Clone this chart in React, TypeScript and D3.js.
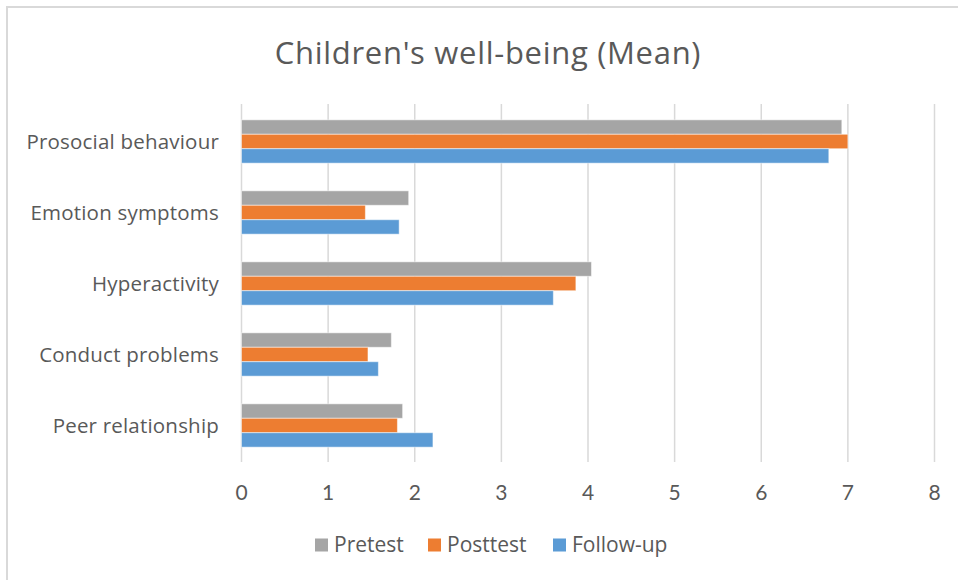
import * as React from "react";
import * as d3 from "d3";

const categories = [
    "Prosocial behaviour",
    "Emotion symptoms",
    "Hyperactivity",
    "Conduct problems",
    "Peer relationship",
];
const seriesNames = ["Pretest", "Posttest", "Follow-up"];
const pretest = [6.93, 1.93, 4.04, 1.73, 1.86];
const posttest = [7.0, 1.43, 3.86, 1.46, 1.8];
const followUp = [6.78, 1.82, 3.6, 1.58, 2.21];
const xTicks = [0, 1, 2, 3, 4, 5, 6, 7, 8];

const colors = ["#A5A5A5", "#ED7D31", "#5B9BD5"];
const textColor = "#595959";
const gridColor = "#D9D9D9";
const labelFont = "Lato, 'Open Sans', sans-serif";
const wideFont = "'Open Sans', sans-serif";

const width = 958;
const height = 580;

export default function App() {
    const ref = React.useRef<SVGSVGElement>(null);

    React.useEffect(() => {
        const svg = d3.select(ref.current);
        svg.selectAll("*").remove();

        const values = [pretest, posttest, followUp];

        const x = d3.scaleLinear().domain([0, 8]).range([241.5, 934.5]);
        const y = d3.scaleBand()
            .domain(categories)
            .range([106, 461])
            .paddingInner(0.39)
            .paddingOuter(0.195);
        const ySub = d3.scaleBand()
            .domain(seriesNames)
            .range([0, y.bandwidth()]);

        // chart border (only top and left visible in the crop)
        svg.append("path")
            .attr("d", `M7,${height} V7 H${width}`)
            .attr("fill", "none")
            .attr("stroke", gridColor)
            .attr("stroke-width", 2);

        svg.append("text")
            .attr("x", 488)
            .attr("y", 64)
            .attr("text-anchor", "middle")
            .attr("font-family", wideFont)
            .attr("font-size", 31)
            .attr("letter-spacing", 0.7)
            .attr("fill", textColor)
            .text("Children's well-being (Mean)");

        // gridlines
        svg.append("g")
            .selectAll("line")
            .data(xTicks)
            .join("line")
            .attr("x1", d => x(d))
            .attr("x2", d => x(d))
            .attr("y1", 104)
            .attr("y2", 462)
            .attr("stroke", gridColor)
            .attr("stroke-width", 1.5);

        // x tick labels
        svg.append("g")
            .selectAll("text")
            .data(xTicks)
            .join("text")
            .attr("x", d => x(d))
            .attr("y", 500)
            .attr("text-anchor", "middle")
            .attr("font-family", labelFont)
            .attr("font-size", 21)
            .attr("fill", textColor)
            .text(d => d);

        // category labels
        svg.append("g")
            .selectAll("text")
            .data(categories)
            .join("text")
            .attr("x", 219)
            .attr("y", d => y(d)! + y.bandwidth() / 2)
            .attr("dy", "0.35em")
            .attr("text-anchor", "end")
            .attr("font-family", wideFont)
            .attr("font-size", 20.5)
            .attr("letter-spacing", 0.2)
            .attr("fill", textColor)
            .text(d => d);

        // bars
        seriesNames.forEach((s, si) => {
            svg.append("g")
                .selectAll("rect")
                .data(categories)
                .join("rect")
                .attr("x", x(0))
                .attr("y", d => y(d)! + ySub(s)!)
                .attr("width", (d, i) => x(values[si][i]) - x(0))
                .attr("height", ySub.bandwidth())
                .attr("fill", colors[si])
                .attr("stroke", "rgba(255,255,255,0.5)")
                .attr("stroke-width", 1);
        });

        // legend
        const legendX = [315, 428, 553];
        const legend = svg.append("g")
            .selectAll("g")
            .data(seriesNames)
            .join("g")
            .attr("transform", (d, i) => `translate(${legendX[i]},545)`);
        legend.append("rect")
            .attr("x", 0)
            .attr("y", -6.5)
            .attr("width", 13)
            .attr("height", 13)
            .attr("fill", (d, i) => colors[i]);
        legend.append("text")
            .attr("x", 19)
            .attr("dy", "0.35em")
            .attr("font-family", wideFont)
            .attr("font-size", 21)
            .attr("fill", textColor)
            .text(d => d);
    }, []);

    return (
        <div style={{position: "absolute", left: 0, top: 0}}>
            <svg ref={ref} width={width} height={height} style={{display: "block", background: "#fff"}}/>
        </div>
    );
}
